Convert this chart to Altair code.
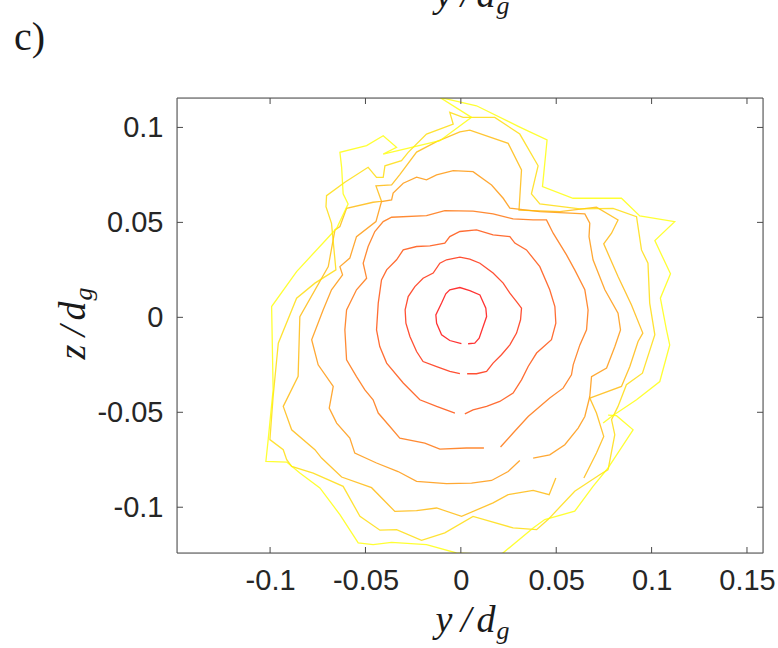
import altair as alt
import pandas as pd

# Contour vertices (y/d_g, z/d_g), innermost level first.
c1 = [(0.0003,-0.0139),(-0.0058,-0.0122),(-0.0101,-0.0092),(-0.0127,-0.0031),(-0.0131,0.0013),
      (-0.0101,0.0075),(-0.0079,0.0124),(-0.0058,0.0145),(-0.0005,0.0157),(0.0047,0.0141),
      (0.0100,0.0118),(0.0131,0.0048),(0.0135,0.0004),(0.0117,-0.0048),(0.0096,-0.0110),
      (0.0073,-0.0136),(0.0038,-0.0139)]
c2 = [(-0.0005,-0.0297),(-0.0058,-0.0285),(-0.0127,-0.0259),(-0.0198,-0.0233),(-0.0232,-0.0180),
      (-0.0267,-0.0101),(-0.0288,-0.0031),(-0.0292,0.0039),(-0.0276,0.0109),(-0.0241,0.0162),
      (-0.0198,0.0206),(-0.0145,0.0233),(-0.0110,0.0285),(-0.0075,0.0303),(-0.0005,0.0317),
      (0.0047,0.0306),(0.0100,0.0285),(0.0169,0.0233),(0.0222,0.0180),(0.0257,0.0127),
      (0.0292,0.0083),(0.0318,0.0048),(0.0313,-0.0013),(0.0292,-0.0083),(0.0257,-0.0145),
      (0.0213,-0.0197),(0.0169,-0.0241),(0.0135,-0.0285),(0.0082,-0.0297),(0.0033,-0.0297)]
c3 = [(0.0021,-0.0508),(0.0064,-0.0487),(0.0135,-0.0469),(0.0204,-0.0443),(0.0274,-0.0399),
      (0.0318,-0.0329),(0.0353,-0.0259),(0.0397,-0.0188),(0.0475,-0.0118),(0.0498,-0.0031),
      (0.0493,0.0057),(0.0466,0.0145),(0.0414,0.0267),(0.0344,0.0355),(0.0283,0.0391),
      (0.0257,0.0425),(0.0169,0.0434),(0.0082,0.0461),(-0.0005,0.0452),(-0.0058,0.0425),
      (-0.0084,0.0391),(-0.0162,0.0376),(-0.0232,0.0373),(-0.0302,0.0355),(-0.0337,0.0303),
      (-0.0389,0.0250),(-0.0416,0.0197),(-0.0433,0.0075),(-0.0442,-0.0066),(-0.0425,-0.0154),
      (-0.0389,-0.0241),(-0.0302,-0.0346),(-0.0215,-0.0434),(-0.0127,-0.0469),(-0.0031,-0.0504)]
c4 = [(0.0208,-0.0683),(0.0274,-0.0609),(0.0353,-0.0522),(0.0466,-0.0425),(0.0536,-0.0373),
      (0.0580,-0.0303),(0.0589,-0.0250),(0.0624,-0.0145),(0.0659,-0.0066),(0.0667,0.0039),
      (0.0650,0.0145),(0.0597,0.0250),(0.0554,0.0329),(0.0484,0.0443),(0.0449,0.0513),
      (0.0379,0.0513),(0.0274,0.0518),(0.0169,0.0545),(0.0064,0.0559),(-0.0084,0.0562),
      (-0.0180,0.0536),(-0.0363,0.0527),(-0.0407,0.0504),(-0.0451,0.0452),(-0.0486,0.0373),
      (-0.0512,0.0285),(-0.0494,0.0206),(-0.0547,0.0145),(-0.0599,0.0039),(-0.0608,-0.0066),
      (-0.0599,-0.0224),(-0.0547,-0.0312),(-0.0503,-0.0382),(-0.0460,-0.0434),(-0.0433,-0.0504),
      (-0.0372,-0.0575),(-0.0320,-0.0636),(-0.0189,-0.0662),(-0.0110,-0.0694),(0.0030,-0.0688),
      (0.0121,-0.0688)]
c5 = [(0.0379,-0.0741),(0.0466,-0.0724),(0.0545,-0.0671),(0.0615,-0.0583),(0.0650,-0.0522),
      (0.0676,-0.0417),(0.0685,-0.0312),(0.0764,-0.0267),(0.0807,-0.0155),(0.0837,-0.0066),
      (0.0824,0.0022),(0.0755,0.0145),(0.0693,0.0303),(0.0672,0.0425),(0.0676,0.0496),
      (0.0650,0.0545),(0.0414,0.0557),(0.0257,0.0575),(0.0222,0.0627),(0.0161,0.0697),
      (0.0064,0.0767),(-0.0040,0.0773),(-0.0127,0.0750),(-0.0180,0.0724),(-0.0232,0.0738),
      (-0.0302,0.0706),(-0.0355,0.0654),(-0.0363,0.0618),(-0.0416,0.0609),(-0.0445,0.0504),
      (-0.0547,0.0425),(-0.0582,0.0312),(-0.0634,0.0267),(-0.0620,0.0224),(-0.0678,0.0145),
      (-0.0722,0.0039),(-0.0782,-0.0118),(-0.0748,-0.0250),(-0.0669,-0.0364),(-0.0690,-0.0478),
      (-0.0651,-0.0557),(-0.0582,-0.0636),(-0.0556,-0.0715),(-0.0442,-0.0767),(-0.0329,-0.0812),
      (-0.0232,-0.0864),(-0.0075,-0.0876),(0.0056,-0.0873),(0.0161,-0.0859),(0.0248,-0.0812),
      (0.0309,-0.0754)]
c6 = [(0.0498,-0.0846),(0.0463,-0.0934),(0.0379,-0.0911),(0.0248,-0.0934),(0.0169,-0.0977),
      (0.0004,-0.1048),(-0.0127,-0.1004),(-0.0232,-0.1018),(-0.0346,-0.1022),(-0.0468,-0.0897),
      (-0.0625,-0.0841),(-0.0730,-0.0741),(-0.0765,-0.0697),(-0.0887,-0.0592),(-0.0931,-0.0469),
      (-0.0853,-0.0311),(-0.0844,0.0004),(-0.0695,0.0267),(-0.0660,0.0460),(-0.0634,0.0478),
      (-0.0599,0.0574),(-0.0460,0.0606),(-0.0416,0.0611),(-0.0445,0.0692),(-0.0363,0.0697),
      (-0.0320,0.0752),(-0.0232,0.0870),(-0.0127,0.0925),(-0.0005,0.0977),(0.0047,0.0986),
      (0.0248,0.0916),(0.0318,0.0776),(0.0305,0.0565),(0.0519,0.0557),(0.0711,0.0580),
      (0.0824,0.0513),(0.0790,0.0443),(0.0749,0.0387),(0.0824,0.0215),(0.0894,0.0066),
      (0.0954,-0.0083),(0.0929,-0.0127),(0.0886,-0.0259),(0.0842,-0.0364),(0.0676,-0.0425),
      (0.0711,-0.0504),(0.0749,-0.0627),(0.0711,-0.0714),(0.0645,-0.0846)]
c7 = [(0.0772,-0.0802),(0.0728,-0.0829),(0.0597,-0.0916),(0.0457,-0.1065),(0.0397,-0.1118),
      (0.0274,-0.1109),(0.0064,-0.1048),(-0.0084,-0.1135),(-0.0206,-0.1174),(-0.0337,-0.1118),
      (-0.0424,-0.1121),(-0.0529,-0.1048),(-0.0617,-0.0890),(-0.0774,-0.0820),(-0.0887,-0.0785),
      (-0.0913,-0.0750),(-0.0931,-0.0697),(-0.1001,-0.0644),(-0.0984,-0.0417),(-0.0957,-0.0136),
      (-0.0861,0.0101),(-0.0765,0.0180),(-0.0655,0.0250),(-0.0678,0.0495),(-0.0707,0.0583),
      (-0.0704,0.0641),(-0.0608,0.0711),(-0.0486,0.0790),(-0.0442,0.0737),(-0.0407,0.0737),
      (-0.0398,0.0798),(-0.0311,0.0825),(-0.0276,0.0869),(-0.0180,0.0965),(-0.0040,0.1018),
      (-0.0058,0.1079),(0.0012,0.1053),(0.0178,0.1053),(0.0309,0.0965),(0.0405,0.0798),
      (0.0370,0.0650),(0.0414,0.0597),(0.0624,0.0571),(0.0798,0.0574),(0.0921,0.0530),
      (0.0947,0.0355),(0.0981,0.0285),(0.0990,0.0075),(0.1017,-0.0092),(0.0952,-0.0294),
      (0.0868,-0.0355),(0.0824,-0.0469),(0.0790,-0.0539),(0.0807,-0.0618),(0.0772,-0.0802)]
c8a = [(-0.0110,0.1158),(0.0082,0.1114),(0.0309,0.1002),(0.0452,0.0934),(0.0428,0.0688),
       (0.0588,0.0627),(0.0842,0.0627),(0.0938,0.0534),(0.1121,0.0504),(0.1017,0.0404),
       (0.1099,0.0229),(0.1046,0.0101),(0.1078,-0.0066),(0.1095,-0.0145),(0.1043,-0.0338),
       (0.0921,-0.0434),(0.0790,-0.0522),(0.0746,-0.0557)]
c8b = [(0.0772,-0.0515),(0.0816,-0.0518),(0.0903,-0.0592),(0.0772,-0.0793),(0.0693,-0.0890),
       (0.0597,-0.1021),(0.0440,-0.1065),(0.0379,-0.1109),(0.0222,-0.1240),(0.0204,-0.1250),
       (-0.0023,-0.1241),(-0.0180,-0.1197),(-0.0363,-0.1185),(-0.0460,-0.1197),(-0.0538,-0.1188),
       (-0.0634,-0.1039),(-0.0739,-0.0898),(-0.0844,-0.0820),(-0.0913,-0.0762),(-0.1022,-0.0758),
       (-0.1010,-0.0644),(-0.0984,-0.0381),(-0.0992,0.0057),(-0.0861,0.0241),(-0.0651,0.0469),
       (-0.0591,0.0597),(-0.0617,0.0650),(-0.0625,0.0790),(-0.0634,0.0869),(-0.0494,0.0904),
       (-0.0407,0.0956),(-0.0337,0.0895),(-0.0407,0.0860),(-0.0110,0.0930),(0.0056,0.1053),
       (-0.0110,0.1158)]

levels = [("1", [c1]), ("2", [c2]), ("3", [c3]), ("4", [c4]), ("5", [c5]),
          ("6", [c6]), ("7", [c7]), ("8", [c8a, c8b])]
level_colors = ["#ff0000", "#ff2400", "#ff4900", "#ff6d00",
                "#ff9200", "#ffb600", "#ffdb00", "#ffff00"]

x_ticks = [-0.1, -0.05, 0, 0.05, 0.1, 0.15]
z_ticks = [-0.1, -0.05, 0, 0.05, 0.1]
x_domain = [-0.1488, 0.1584]
z_domain = [-0.1241, 0.1155]

rows = []
for lev, segments in levels:
    for s, seg in enumerate(segments):
        for i, (yv, zv) in enumerate(seg):
            rows.append({"level": lev, "seg": f"{lev}-{s}", "i": i, "yd": yv, "zd": zv})
df = pd.DataFrame(rows)

W, H = 586, 455
TICK = 6
frame = "#4a4a4a"
label_font = "Liberation Sans"
title_font = "Liberation Serif"

x_scale = alt.Scale(domain=x_domain, nice=False, zero=False)
z_scale = alt.Scale(domain=z_domain, nice=False, zero=False)

axis_style = dict(domain=False, grid=False, ticks=False, title=None,
                  labelExpr="'' + datum.value", labelFont=label_font,
                  labelFontSize=29, labelColor="#262626")
x_axis = alt.Axis(orient="bottom", values=x_ticks, labelPadding=13, **axis_style)
z_axis = alt.Axis(orient="left", values=z_ticks, labelPadding=14, **axis_style)

# every layer that uses a position field carries the same axis definition
X = alt.X("yd:Q", scale=x_scale, axis=x_axis)
Z = alt.Y("zd:Q", scale=z_scale, axis=z_axis)

lines = alt.Chart(df).mark_line(strokeWidth=1.3, strokeOpacity=0.8, clip=True).encode(
    x=X, y=Z,
    color=alt.Color("level:N", scale=alt.Scale(domain=[l for l, _ in levels], range=level_colors),
                    legend=None),
    detail="seg:N",
    order="i:Q",
)

# inward tick marks on all four sides of the box
xt = pd.DataFrame({"yd": x_ticks})
zt = pd.DataFrame({"zd": z_ticks})
ticks_bottom = alt.Chart(xt).mark_rule(color=frame, strokeWidth=1).encode(
    x=X, y=alt.value(H), y2=alt.value(H - TICK))
ticks_top = alt.Chart(xt).mark_rule(color=frame, strokeWidth=1).encode(
    x=X, y=alt.value(0), y2=alt.value(TICK))
ticks_left = alt.Chart(zt).mark_rule(color=frame, strokeWidth=1).encode(
    y=Z, x=alt.value(0), x2=alt.value(TICK))
ticks_right = alt.Chart(zt).mark_rule(color=frame, strokeWidth=1).encode(
    y=Z, x=alt.value(W), x2=alt.value(W - TICK))

box = alt.Chart(pd.DataFrame({"b": [0]})).mark_rect(
    fillOpacity=0, stroke=frame, strokeWidth=1
).encode(x=alt.value(0), x2=alt.value(W), y=alt.value(0), y2=alt.value(H))


def glyph(text, x, y, size, angle=0, italic=True, font=title_font, align="center"):
    return alt.Chart(pd.DataFrame({"t": [text]})).mark_text(
        font=font, fontSize=size, fontStyle="italic" if italic else "normal",
        angle=angle, align=align, baseline="alphabetic", color="#1a1a1a"
    ).encode(x=alt.value(x), y=alt.value(y), text="t:N")


texts = [
    # x-axis title  y/d_g
    glyph("y", 267, 534, 38), glyph("/", 289, 534, 38), glyph("d", 309, 534, 38),
    glyph("g", 326, 541, 26),
    # y-axis title  z/d_g (rotated)
    glyph("z", -92, 254, 38, angle=270), glyph("/", -92, 233, 38, angle=270),
    glyph("d", -92, 213, 38, angle=270), glyph("g", -85, 196, 26, angle=270),
    # panel tag
    glyph("c)", -163, -48, 40, italic=False, align="left"),
    # lower edge of the neighbouring panel's axis title
    glyph("y", 267, -91, 38), glyph("/", 289, -91, 38), glyph("d", 309, -91, 38),
    glyph("g", 326, -84, 26),
]

chart = alt.layer(lines, ticks_bottom, ticks_top, ticks_left, ticks_right, box, *texts).properties(
    width=W, height=H,
    autosize=alt.AutoSizeParams(type="none"),
    padding={"left": 177, "top": 98, "right": 15, "bottom": 95},
).configure_view(stroke=None).configure(background="white")

chart.save("out.html", embed_options={"renderer": "svg", "actions": False})
